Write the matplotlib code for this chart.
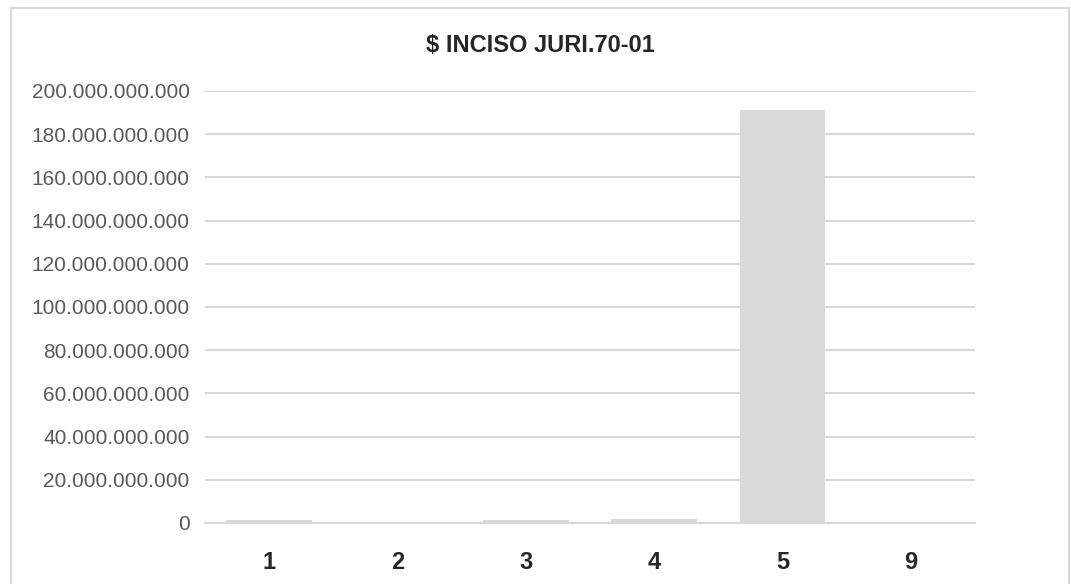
import matplotlib
matplotlib.use("Agg")
import matplotlib.pyplot as plt
from matplotlib.patches import Rectangle
from matplotlib.ticker import FuncFormatter, MultipleLocator

title = "$ INCISO JURI.70-01"
categories = ["1", "2", "3", "4", "5", "9"]
values = [1.4e9, 0.1e9, 1.3e9, 2.0e9, 191.3e9, 0.05e9]

plt.rcParams['font.family'] = ['Liberation Sans', 'DejaVu Sans']

W, H = 1071, 584
fig = plt.figure(figsize=(W / 100, H / 100), dpi=100)
fig.patch.set_facecolor("white")

# outer chart border (bottom edge runs off the image)
fig.add_artist(Rectangle((11 / W, -0.02), (1069 - 11) / W, 1.02 - 7.5 / H,
                         transform=fig.transFigure, fill=False,
                         edgecolor="#d9d9d9", linewidth=1.5))

ax = fig.add_axes([205 / W, 1 - 523 / H, (975 - 205) / W, (523 - 91) / H])
x = range(len(categories))
ax.bar(x, values, width=0.67, color="#d9d9d9", zorder=3)
ax.set_xlim(-0.5, len(categories) - 0.5)
ax.set_ylim(0, 200e9)
ax.yaxis.set_major_locator(MultipleLocator(20e9))

def fmt(v, pos):
    return f"{int(round(v)):,}".replace(",", ".")

ax.yaxis.set_major_formatter(FuncFormatter(fmt))
ax.set_xticks(list(x))
ax.set_xticklabels(categories, fontsize=17, fontweight="bold", color="#262626")
ax.tick_params(axis="x", length=0, pad=20)
ax.tick_params(axis="y", length=0, pad=11, labelsize=15, labelcolor="#595959")
ax.grid(axis="y", color="#d9d9d9", linewidth=1.5, zorder=0)
for s in ["top", "right", "left"]:
    ax.spines[s].set_visible(False)
ax.spines["bottom"].set_color("#d9d9d9")
ax.spines["bottom"].set_linewidth(1.5)

fig.text(540 / W, 1 - 45 / H, title, ha="center", va="center",
         fontsize=17, fontweight="bold", color="#262626")

fig.savefig("out.png", dpi=100, facecolor="white")
